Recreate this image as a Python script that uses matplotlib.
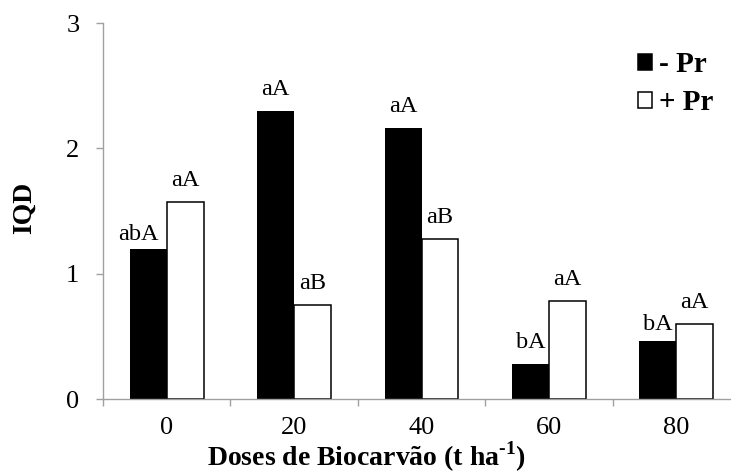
import numpy as np
import matplotlib
matplotlib.use("Agg")
import matplotlib.pyplot as plt
from matplotlib.patches import Patch

# Doses of biochar (t/ha) and IQD means for each phosphorus treatment
doses = ["0", "20", "40", "60", "80"]
sem_pr = [1.20, 2.30, 2.16, 0.28, 0.46]
com_pr = [1.57, 0.75, 1.28, 0.78, 0.60]
letras_sem = ["abA", "aA", "aA", "bA", "bA"]
letras_com = ["aA", "aB", "aB", "aA", "aA"]
series_labels = ["- Pr", "+ Pr"]
y_ticks = [0, 1, 2, 3]

plt.rcParams["font.family"] = ["Liberation Serif", "DejaVu Serif"]
plt.rcParams["mathtext.fontset"] = "custom"
plt.rcParams["mathtext.rm"] = "Liberation Serif:bold"
plt.rcParams["mathtext.bf"] = "Liberation Serif:bold"

W, H = 731, 473
fig = plt.figure(figsize=(W / 100, H / 100), dpi=100)
ax = fig.add_axes([103 / W, 1 - 399 / H, 637 / W, 376 / H])

axis_gray = "#a0a0a0"
x = np.arange(len(doses))
w = 0.29

ax.bar(x - w / 2, sem_pr, w, color="black", edgecolor="black", linewidth=0, zorder=1)
ax.bar(x + w / 2, com_pr, w, color="white", edgecolor="black", linewidth=1.1, zorder=1)

# significance letters above bars (small nudges where labels would collide)
lab_size = 17.5
nudge_sem = {0: (-7, 6), 4: (0, 8)}
for i, (v, t) in enumerate(zip(sem_pr, letras_sem)):
    dx, dy = nudge_sem.get(i, (0, 11.5))
    ax.annotate(t, (x[i] - w / 2, v), xytext=(dx, dy), textcoords="offset points",
                ha="center", va="baseline", fontsize=lab_size)
for i, (v, t) in enumerate(zip(com_pr, letras_com)):
    ax.annotate(t, (x[i] + w / 2, v), xytext=(0, 11.5), textcoords="offset points",
                ha="center", va="baseline", fontsize=lab_size)

ax.set_xlim(-0.5, len(doses) - 0.5)
ax.set_ylim(0, 3)
ax.set_yticks(y_ticks)
ax.set_xticks(x)
ax.set_xticklabels(doses)
ax.set_xticks(np.arange(len(doses) + 1) - 0.5, minor=True)

for side in ("top", "right"):
    ax.spines[side].set_visible(False)
for side in ("left", "bottom"):
    ax.spines[side].set_color(axis_gray)
    ax.spines[side].set_linewidth(1.0)
    ax.spines[side].set_zorder(3)

ax.tick_params(axis="y", direction="out", length=5, width=1.0, color=axis_gray,
               labelsize=19, pad=12)
ax.tick_params(axis="x", which="major", length=0, labelsize=19, pad=13)
ax.tick_params(axis="x", which="minor", direction="out", length=5, width=1.0,
               color=axis_gray)

fig.text(24 / W, 1 - 208 / H, "IQD", rotation=90, ha="center", va="center",
         fontsize=20, fontweight="bold")
fig.text(366 / W, 1 - 466 / H, r"Doses de Biocarvão (t ha$^{\text{-1}}$)",
         ha="center", va="baseline", fontsize=20, fontweight="bold")

handles = [Patch(facecolor="black", edgecolor="black", linewidth=1.1),
           Patch(facecolor="white", edgecolor="black", linewidth=1.1)]
ax.legend(handles, series_labels, loc="upper left",
          bbox_to_anchor=(638 / W, 1 - 51 / H), bbox_transform=fig.transFigure,
          frameon=False, prop=dict(weight="bold", size=21),
          handlelength=0.48, handleheight=0.48, handletextpad=0.25,
          labelspacing=0.38, borderpad=0, borderaxespad=0)

fig.savefig("out.png", dpi=100)
